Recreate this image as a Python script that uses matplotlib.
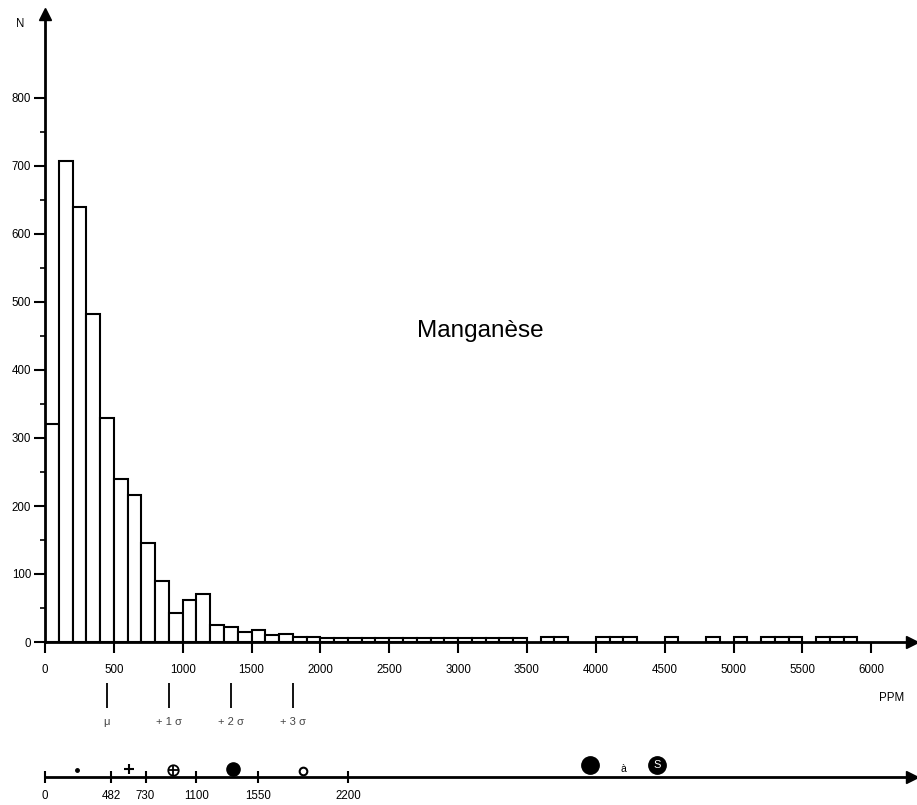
import numpy as np
import matplotlib
matplotlib.use('Agg')
import matplotlib.pyplot as plt

plt.rcParams['font.family'] = ['Liberation Sans', 'DejaVu Sans']

# histogram: left edge of each 100 ppm class and its count
bin_left = [0, 100, 200, 300, 400, 500, 600, 700, 800, 900,
            1000, 1100, 1200, 1300, 1400, 1500, 1600, 1700, 1800, 1900,
            2000, 2100, 2200, 2300, 2400, 2500, 2600, 2700, 2800, 2900,
            3000, 3100, 3200, 3300, 3400,
            3600, 3700, 4000, 4100, 4200, 4500, 4800, 5000,
            5200, 5300, 5400, 5600, 5700, 5800]
counts = [320, 708, 640, 482, 330, 240, 216, 145, 90, 42,
          62, 70, 25, 22, 15, 17, 11, 12, 8, 8,
          6, 6, 6, 6, 6, 6, 6, 6, 6, 6,
          6, 6, 6, 6, 6,
          7, 7, 7, 7, 7, 7, 7, 7,
          7, 7, 7, 7, 7, 7]
bin_width = 100

# mean and sigma marks
sigma_pos = [450, 900, 1350, 1800]
sigma_lab = ['μ', '+ 1 σ', '+ 2 σ', '+ 3 σ']

# class limits of the lower scale and their symbols
class_lim = [0, 482, 730, 1100, 1550, 2200]
sym_pos = [230, 610, 930, 1363, 1874]
big_pos = [3958, 4445]
a_pos = 4198

W, H = 917, 805
px = 0.1377   # pixels per ppm
py = 0.68     # pixels per count
x0, y0 = 45, 642
xmax = (912 - x0) / px
fs = 8.3

fig = plt.figure(figsize=(W / 100, H / 100), dpi=100)

# ---- main histogram ----
ax = fig.add_axes([x0 / W, (H - y0) / H, (912 - x0) / W, (y0 - 14) / H])
ax.bar(bin_left, counts, width=bin_width, align='edge', color='white',
       edgecolor='black', linewidth=1.5, zorder=2)
ax.set_xlim(0, xmax)
ax.set_ylim(0, (y0 - 14) / py)
for s in ['top', 'right']:
    ax.spines[s].set_visible(False)
for s in ['left', 'bottom']:
    ax.spines[s].set_linewidth(2)
ax.plot(1, 0, '>k', ms=8, transform=ax.transAxes, clip_on=False)
ax.plot(0, 1, '^k', ms=8, transform=ax.transAxes, clip_on=False)

ax.set_xticks(np.arange(0, 6001, 500))
ax.set_yticks(np.arange(0, 801, 100))
ax.set_yticks(np.arange(50, 800, 100), minor=True)
ax.tick_params(axis='x', direction='out', length=8, width=1.5, pad=8, labelsize=fs)
ax.tick_params(axis='y', which='major', direction='out', length=8, width=1.5, pad=2, labelsize=fs)
ax.tick_params(axis='y', which='minor', direction='out', length=3.5, width=1.2)

ax.text((480 - x0) / px, (y0 - 337) / py, 'Manganèse', fontsize=17.5,
        ha='center', va='baseline')
fig.text(20 / W, 1 - 24 / H, 'N', fontsize=fs, ha='center', va='center')
fig.text(892 / W, 1 - 698 / H, 'PPM', fontsize=fs, ha='center', va='center')

# ---- sigma marks ----
ax3 = fig.add_axes([x0 / W, 75 / H, (912 - x0) / W, 55 / H])
ax3.set_xlim(0, xmax)
ax3.set_ylim(0, 1)
ax3.axis('off')
ax3.vlines(sigma_pos, 0.4, 0.855, color='black', linewidth=1.3)
for p, lab in zip(sigma_pos, sigma_lab):
    ax3.text(p, 0.145, lab, fontsize=8, ha='center', va='center', color='#444444')

# ---- lower class scale ----
ax2 = fig.add_axes([x0 / W, (H - 777) / H, (912 - x0) / W, 30 / H])
ax2.set_xlim(0, xmax)
ax2.set_ylim(0, 1)
for s in ['top', 'right', 'left']:
    ax2.spines[s].set_visible(False)
ax2.spines['bottom'].set_linewidth(2)
ax2.set_yticks([])
ax2.set_xticks(class_lim)
ax2.set_xticklabels([str(v) for v in class_lim])
ax2.tick_params(axis='x', direction='inout', length=9, width=1.5, pad=5, labelsize=fs)
ax2.plot(1, 0, '>k', ms=8, transform=ax2.transAxes, clip_on=False)

ax2.plot(sym_pos[0], 0.23, 'o', color='black', ms=2.5, clip_on=False)
ax2.plot(sym_pos[1], 0.27, '+', color='black', ms=7, mew=1.5, clip_on=False)
ax2.plot(sym_pos[2], 0.23, 'o', mfc='white', mec='black', ms=7.5, mew=1.3, clip_on=False)
ax2.plot(sym_pos[2], 0.23, '+', color='black', ms=7, mew=1.3, clip_on=False)
ax2.plot(sym_pos[3], 0.27, 'o', color='black', ms=9.5, clip_on=False)
ax2.plot(sym_pos[4], 0.2, 'o', mfc='white', mec='black', ms=5.5, mew=1.5, clip_on=False)
ax2.plot(big_pos, [0.4, 0.4], 'o', color='black', ms=12.5, clip_on=False)
ax2.text(big_pos[1], 0.4, 'S', color='white', fontsize=8, ha='center', va='center')
ax2.text(a_pos, 0.27, 'à', fontsize=7.5, ha='center', va='center')

fig.savefig('out.png', dpi=100)
